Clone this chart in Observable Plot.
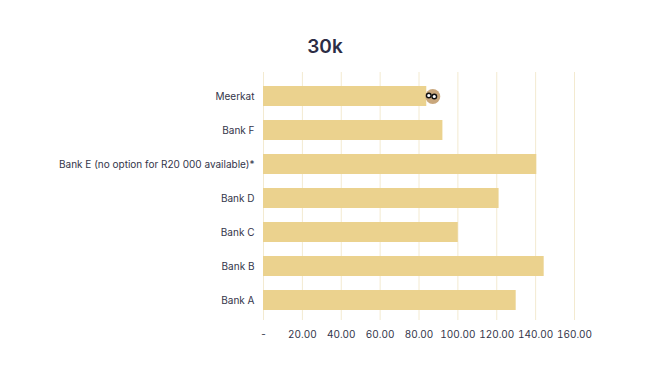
<!DOCTYPE html>
<html><head><meta charset="utf-8">
<script src="https://cdn.jsdelivr.net/npm/d3@7"></script>
<script src="https://cdn.jsdelivr.net/npm/@observablehq/plot@0.6"></script>
<style>
body{margin:0;background:#fff;font-family:Inter,"Noto Sans",sans-serif;}
#title{height:66px;box-sizing:border-box;padding-top:36px;text-align:center;font-size:19px;line-height:22px;font-weight:600;color:#2c2d45;}
#chart svg{display:block}
</style></head>
<body>
<div id="title">30k</div>
<div id="chart"></div>
<script>
const categories = ["Meerkat","Bank F","Bank E (no option for R20 000 available)*","Bank D","Bank C","Bank B","Bank A"];
const values = [84, 92.3, 140.6, 121.2, 100.2, 144.4, 130];
const ticks = [0,20,40,60,80,100,120,140,160];
const highlight = "Meerkat";

const data = categories.map((c,i)=>({name:c, value:values[i]}));
const face = data.filter(d=>d.name===highlight);

const chart = Plot.plot({
  width:650, height:313,
  marginLeft:263, marginRight:76, marginTop:6, marginBottom:59,
  style:{fontFamily:"Inter, 'Noto Sans', sans-serif", fontSize:"10px", color:"#33354a", background:"#fff"},
  x:{domain:[0,160], ticks:ticks, tickFormat:d=>d===0?"-":d3.format(".2f")(d), label:null, tickSize:0, tickPadding:10},
  y:{domain:categories, label:null, paddingInner:0.4, paddingOuter:0.28, align:0.6, tickSize:0, tickPadding:9},
  marks:[
    Plot.ruleX(ticks,{stroke:"#f3ead0", strokeWidth:1}),
    Plot.barX(data,{x:"value", y:"name", fill:"#ebd28e"}),
    Plot.dot(face,{x:"value", y:"name", r:7.5, fill:"#c9a77c", dx:6}),
    Plot.dot(face,{x:"value", y:"name", r:2.3, stroke:"#111", strokeWidth:1.4, fill:"#fff", dx:2, dy:-1}),
    Plot.dot(face,{x:"value", y:"name", r:2.3, stroke:"#111", strokeWidth:1.4, fill:"#fff", dx:7.5, dy:0})
  ]
});
document.getElementById("chart").append(chart);
</script>
</body></html>
